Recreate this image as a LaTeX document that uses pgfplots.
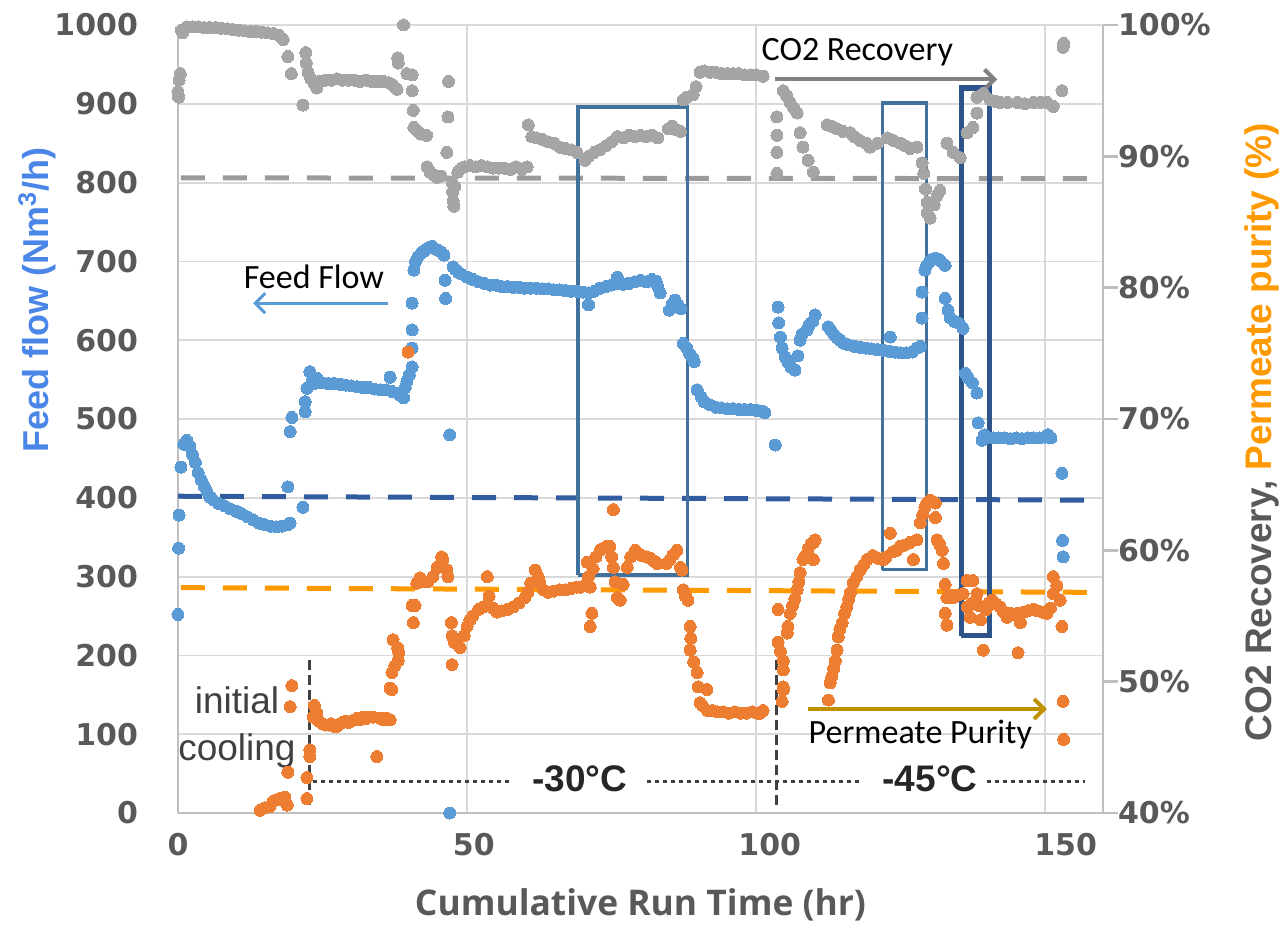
\documentclass[border=0pt]{standalone}
\usepackage{fontspec}
\usepackage{pgfplots}
\usepackage{pgfplotstable}
\pgfplotsset{compat=1.18}
\usetikzlibrary{arrows.meta}
\setmainfont{Liberation Sans}
\newfontfamily\tickfont{DejaVu Sans}
\newfontfamily\calib{Carlito}
\newfontfamily\osans{Open Sans}
\definecolor{cblue}{RGB}{91,155,213}
\definecolor{corange}{RGB}{237,125,49}
\definecolor{cgray}{RGB}{165,165,165}
\definecolor{gridgray}{RGB}{217,217,217}
\definecolor{axisgray}{RGB}{191,191,191}
\definecolor{tickgray}{RGB}{89,89,89}
\definecolor{dashgray}{RGB}{155,155,155}
\definecolor{dashblue}{RGB}{50,92,160}
\definecolor{dashorange}{RGB}{255,153,0}
\definecolor{boxblue}{RGB}{65,113,156}
\definecolor{boxdark}{RGB}{46,84,140}
\definecolor{labelblue}{RGB}{74,134,232}
\definecolor{labelorange}{RGB}{255,153,0}
\definecolor{darkline}{RGB}{64,64,64}
\definecolor{gold}{RGB}{191,144,0}
\definecolor{arrowgray}{RGB}{128,128,128}

\pgfplotstableread{
x y
0.0 252
0.1 336
0.2 378
0.5 439
1.0 468
1.5 473
2.0 466
2.5 455
3 445
3.5 432
4 423
4.5 415
5 408
5.5 401
6 398
7 393
8 390
9 386
10 383
11 380
12 376
13 372
14 368
15 366
16 364
17 363
18 364
19 366
19.4 368
19 414
21.6 388
19.4 484
19.7 502
22 509
22 522
22.3 539
22.8 560
23.2 548
23.6 545
24 552
24.5 547
25 546
26 545
27 545
28 544
29 543
30 542
31 541
32 540
33 540
34 538
35 537
36 537
36.7 553
37 535
38 533
38.5 530
39 527
39.3 540
39.6 548
40 556
40.5 566
40.5 590
40.5 613
40.5 647
40.8 689
41.1 700
41.5 706
42 710
42.5 713
43 716
43.5 718
44 719
44.5 716
45 714
45.5 712
46 708
46.2 676
46.3 653
47 480
47 0
47.6 693
48 690
48.5 686
49 684
50 680
51 677
52 674
53 672
54 670
55 670
56 668
57 668
58 667
59 667
60 666
61 666
62 666
63 665
64 665
65 664
66 664
67 663
68 662
69 662
70 661
71 660
71 645
72 662
73 666
74 668
75 670
76 672
76 680
77 671
78 672
79 674
80 676
81 674
82 677
82.7 675
83 668
83.4 660
85 638
85.5 646
86 651
86.5 645
87 640
87.4 596
88 590
88.5 583
89 578
89.3 573
89.8 537
90.5 528
91 522
92 518
93 515
94 514
95 513
96 513
97 512
98 512
99 512
100 511
101 510
101.5 508
103.3 467
103.8 642
103.9 622
104.2 604
104.5 590
105 579
105.5 572
106 566
106.7 562
107.2 580
107.6 600
108 608
108.8 613
109.2 620
109.8 624
110.2 632
112.5 617
113 612
113.5 607
114 603
114.5 600
115 597
115.5 595
116 594
117 592
118 591
119 590
120 589
121 588
122 587
123 586
123.2 604
124 585
125 584
126 584
127 585
127.8 590
128.4 592
128.7 628
128.7 661
129.2 689
129.5 695
130 700
130.5 703
131 704
131.5 703
132 700
132.7 695
132.7 653
133.2 638
133.6 628
134.3 624
135 622
135.8 615
136.2 558
136.7 552
137.4 546
138.2 533
138.4 495
139.1 473
139.5 480
140 477
141 476
142 476
143 476
144 475
145 476
146 475
147 476
148 476
149 476
150 477
150.5 480
151 476
152.9 431
153 346
153.1 325
}\feedflow

\pgfplotstableread{
x p
0.0 94.9
0.1 94.5
0.2 95.8
0.4 96.3
0.6 99.6
0.8 99.4
1.5 99.85
2.5 99.85
3.5 99.85
4.5 99.8
5.5 99.8
6.5 99.8
7.5 99.75
8.5 99.7
9.5 99.65
10.5 99.6
11.5 99.55
12.5 99.5
13.5 99.5
14.5 99.45
15.5 99.4
16.5 99.35
17.5 99.2
18.2 98.9
19 97.6
19.6 96.3
21.6 93.9
22.1 97.9
22.2 97.1
22.5 96.4
23 95.9
23.5 95.6
24 95.2
24.5 95.7
25.5 95.8
26.5 95.8
27.5 95.9
28.5 95.8
29.5 95.8
30.5 95.8
31.5 95.7
32.5 95.8
33.5 95.7
34.5 95.7
35.5 95.7
36.5 95.6
37.2 95.4
37.9 95.1
38 97.5
38.1 97.1
39 100
39.6 96.3
40.5 96.2
40.5 95.0
40.7 93.5
40.8 92.2
41.5 91.9
42 91.7
43 91.6
43.1 89.2
43.6 88.8
44.2 88.6
44.8 88.4
45.5 88.5
46.5 90.3
46.7 93.0
46.8 95.7
47.4 88.0
47.5 87.3
47.6 86.6
47.7 86.2
47.9 87.7
48.4 88.8
48.8 89.0
49.5 89.2
50.5 89.3
51.5 89.2
52.5 89.3
53.5 89.2
54.5 89.1
55.5 89.1
56.5 89.1
57.5 89.0
58.5 89.2
59.5 89.0
60.4 89.2
60.6 92.4
61.2 91.5
62 91.4
63 91.3
64 91.1
65 91.0
66 90.7
67 90.6
68 90.5
69 90.3
70.4 89.7
71 90.0
72 90.3
73 90.5
74 90.8
75 91.1
76 91.5
77 91.4
78 91.6
79 91.5
80 91.6
81 91.5
82 91.6
83 91.4
84.8 92.1
85.5 92.3
86.3 92.0
86.9 91.9
87.4 94.3
88 94.5
89.1 94.7
89.6 95.3
90.3 96.4
91 96.5
92 96.4
93 96.4
94 96.3
95 96.3
96 96.3
97 96.3
98 96.2
99 96.2
100 96.2
101.2 96.1
103.6 88.7
103.6 90.3
103.6 91.6
103.6 93.0
104.7 95.0
105.3 94.6
105.9 94.1
106.5 93.7
107.1 93.3
107.6 91.8
108.1 90.7
109 89.7
109.9 88.8
112.3 92.4
113 92.3
114 92.1
115 91.9
116.3 91.8
117 91.5
118 91.2
119 91.0
119.7 90.7
121 91.0
122.7 91.4
123.8 91.2
124.9 91.0
125.8 90.8
126.6 90.6
127.8 90.7
128.7 89.5
129 88.7
129.3 87.5
129.6 86.5
129.6 85.7
130.1 85.3
130.8 86.3
131.3 87.0
131.8 87.4
133 91.0
134.1 90.3
135.3 89.9
136.5 91.8
137.5 92.2
138.2 93.3
138.2 94.5
139.3 94.8
140.5 94.3
141.3 94.2
142.2 94.1
143.5 94.1
145.2 94.1
146.5 94.0
148 94.1
149.2 94.1
150.3 94.1
151.4 93.8
152.9 95.0
153.1 98.3
153.2 98.6
}\recovery

\pgfplotstableread{
x p
14.2 40.2
15.0 40.4
15.9 40.5
16.5 40.9
17 41.0
17.6 41.1
18.2 41.0
18.9 40.6
18.5 41.2
19 43.1
19.4 48.1
19.7 49.7
22.3 41.1
22.3 42.7
22.8 44.3
22.8 44.8
23.4 47.3
23.6 48.2
24 47.6
24.3 47.0
25 46.8
25.5 46.7
26 46.7
26.5 46.8
27 46.6
27.5 46.6
28 46.8
28.5 46.9
29 47.0
29.5 46.9
30 47.0
30.5 47.1
31 47.2
31.5 47.1
32 47.3
32.5 47.2
33 47.3
33.7 47.3
34.4 44.3
35 47.2
35.5 47.1
36 47.2
36.7 47.1
36.7 49.5
37 49.4
37 50.7
37.2 53.2
37.5 51.2
38.1 51.6
38 52.6
38.2 52.2
39.8 75.1
40.5 55.8
40.7 54.5
41 55.8
41.3 57.5
41.9 57.9
42.5 57.6
43.2 57.6
44.1 58.0
44.8 58.7
45.6 59.5
45.8 59.3
46.5 58.5
46.7 58.0
47.3 54.5
47.4 53.5
47.4 51.3
47.8 53.0
48.3 53.2
48.8 52.6
49.5 53.5
50 54.2
50.5 54.7
51 55.0
52 55.5
52.8 55.7
53.5 58.0
53.8 56.5
54.5 55.6
55.2 55.3
56 55.4
57 55.5
58 55.7
59 56.0
60 56.4
60.5 56.8
61 57.5
61.8 58.5
62.3 58.0
62.6 57.5
63.2 57.0
64 56.8
65 56.9
66 57.0
67 57.0
68 57.1
69 57.2
69.6 57.2
70.2 57.3
70.8 59.1
71 58.0
71.3 57.2
71.6 55.2
71.3 54.2
71.8 58.6
72.3 59.5
73 60.0
73.7 60.2
74.2 60.3
74.7 60.3
75 59.5
75.3 58.7
75.3 63.1
75.6 57.6
76 56.4
76.5 56.2
77 57.4
77.7 58.7
78.3 59.5
79.1 60.0
79.7 59.7
80.3 59.6
81.1 59.5
81.7 59.4
82.3 59.2
82.9 59.0
84.5 59.0
85.1 59.3
85.7 59.7
86.3 60.0
86.9 58.7
87.2 58.5
87.4 57.0
87.8 56.5
88.2 56.2
88.6 54.2
88.7 53.3
88.6 52.4
89.2 51.5
89.8 50.7
90.0 49.6
90.3 48.4
90.7 48.2
91.5 49.4
91.6 47.8
92.5 47.8
93.3 47.7
94.3 47.7
95.3 47.6
96.3 47.7
97.3 47.6
98.3 47.6
99.3 47.7
100.2 47.6
100.7 47.6
101.2 47.8
103.8 55.5
103.8 53.0
104.2 52.3
104.7 51.6
104.7 50.9
104.7 49.6
104.5 48.5
104.7 49.4
105.4 53.7
105.5 54.2
105.9 55.2
106.3 55.8
106.7 56.3
107.1 57.0
107.4 57.6
107.6 58.3
108.1 59.3
108.5 59.6
109 60.1
109.5 60.5
109.9 60.6
109.9 59.3
110.2 60.8
112.5 48.6
112.8 49.9
113.1 50.4
113.4 51.0
113.7 51.6
114 52.4
114.2 53.4
114.5 54.0
114.9 54.5
115.3 55.2
115.7 55.7
116 56.3
116.3 56.8
116.8 57.5
117.4 58.0
118 58.5
118.6 58.9
119.2 59.3
120.2 59.6
121 59.4
122 59.3
122.5 59.5
123.2 61.3
123.7 59.9
124.3 60.0
124.9 60.3
125.7 60.4
126.6 60.6
127.2 59.3
127.8 60.8
128.4 62.1
128.8 62.7
129.2 63.3
129.6 63.6
130.1 63.8
130.6 63.7
131 63.6
131 62.5
131.3 60.8
131.8 60.4
132.2 60.0
132.4 59.0
132.7 57.4
133 56.4
132.7 55.2
133 54.3
133.5 56.6
134.1 56.4
135 56.6
135.8 56.7
136.5 55.7
136.5 57.7
137 54.9
137.4 56.0
137.5 57.7
138.2 56.7
138.5 55.8
138.8 54.7
139.3 52.4
139.8 55.5
140.3 56.0
140.8 56.2
141.5 55.9
142.2 55.7
142.8 55.3
143.4 54.9
144 55.2
144.6 55.1
145.2 55.2
145.7 54.5
145.3 52.2
146.3 55.3
147 55.4
148 55.5
148.7 55.4
149.5 55.3
150.3 55.2
150.9 55.6
151.4 56.7
151.4 58.0
152 57.3
152.6 56.2
152.9 54.2
153.1 48.5
153.2 45.6
}\purity

\begin{document}
\begin{tikzpicture}
\useasboundingbox (-89pt,-68pt) rectangle (553pt,406.5pt);
\begin{axis}[
  scale only axis, width=462.5pt, height=394pt,
  xmin=0, xmax=160, ymin=0, ymax=1000,
  clip=false,
  axis x line*=bottom, axis y line*=left,
  axis line style={-, draw=axisgray, line width=1.2pt},
  xtick={0,50,100,150}, xticklabels={0,50,100,150},
  ytick={0,100,200,300,400,500,600,700,800,900,1000},
  yticklabels={0,100,200,300,400,500,600,700,800,900,1000},
  major tick length=0pt,
  grid=major, major grid style={draw=gridgray, line width=0.9pt},
  tick label style={font=\tickfont\bfseries\fontsize{15}{18}\selectfont, text=tickgray},
  xticklabel style={yshift=-6.5pt, xshift={\ticknum*3.4pt}},
  yticklabel style={xshift=-16.5pt},
  mark size=3pt,
]
\addplot[only marks, color=cblue, mark=*, mark options={draw=cblue, fill=cblue, line width=0pt}] table[x=x,y=y] {\feedflow};
\addplot[only marks, color=cgray, mark=*, mark options={draw=cgray, fill=cgray, line width=0pt}] table[x=x,y expr={(\thisrow{p}-40)*1000/60}] {\recovery};
\addplot[only marks, color=corange, mark=*, mark options={draw=corange, fill=corange, line width=0pt}] table[x=x,y expr={(\thisrow{p}-40)*1000/60}] {\purity};

% reference lines
\addplot[no marks, draw=dashgray, line width=2.5pt, dash pattern=on 12pt off 9pt] coordinates {(0.5,806) (158.6,805)};
\addplot[no marks, draw=dashblue, line width=2.5pt, dash pattern=on 12pt off 9pt] coordinates {(0,402) (158.6,397)};
\addplot[no marks, draw=dashorange, line width=2.5pt, dash pattern=on 12pt off 9pt] coordinates {(0.5,286) (158.6,280)};

% boxes
\addplot[no marks, draw=boxblue, line width=1.6pt] coordinates {(69.2,302) (88.1,302) (88.1,896) (69.2,896) (69.2,302)};
\addplot[no marks, draw=boxblue, line width=1.6pt] coordinates {(121.8,309) (129.4,309) (129.4,901) (121.8,901) (121.8,309)};
\addplot[no marks, draw=boxdark, line width=2.6pt] coordinates {(135.5,225) (140.3,225) (140.3,920) (135.5,920) (135.5,225)};

% temperature markers
\addplot[no marks, draw=darkline, line width=1.5pt, dash pattern=on 5pt off 2.5pt] coordinates {(22.7,10) (22.7,198)};
\addplot[no marks, draw=darkline, line width=1.5pt, dash pattern=on 5pt off 2.5pt] coordinates {(103.5,10) (103.5,198)};
\addplot[no marks, draw=darkline, line width=1.5pt, dash pattern=on 2pt off 2pt] coordinates {(23.4,40) (57.7,40)};
\addplot[no marks, draw=darkline, line width=1.5pt, dash pattern=on 2pt off 2pt] coordinates {(81.1,40) (118.3,40)};
\addplot[no marks, draw=darkline, line width=1.5pt, dash pattern=on 2pt off 2pt] coordinates {(140,40) (156.9,40)};

\node[font=\bfseries\fontsize{18.5}{22}\selectfont, text={rgb,255:red,38;green,38;blue,38}] at (axis cs:69.5,44) {-30\textdegree C};
\node[font=\bfseries\fontsize{18.5}{22}\selectfont, text={rgb,255:red,38;green,38;blue,38}] at (axis cs:130.1,44) {-45\textdegree C};
\node[font=\fontsize{18.5}{23.5}\selectfont, text=darkline, align=center] at (axis cs:10.2,109) {initial\\cooling};

% annotations
\node[font=\calib\fontsize{17}{20}\selectfont] at (axis cs:23.5,680) {Feed Flow};
\draw[draw=cblue, line width=1.5pt, -{Straight Barb[length=5pt,width=10pt]}] (axis cs:36.3,647) -- (axis cs:13,647);
\node[font=\calib\fontsize{17}{20}\selectfont] at (axis cs:117.5,966) {CO2 Recovery};
\draw[draw=arrowgray, line width=2pt, -{Straight Barb[length=5pt,width=10pt]}] (axis cs:103.3,931) -- (axis cs:141.7,931);
\node[font=\calib\fontsize{17}{20}\selectfont] at (axis cs:128.4,99) {Permeate Purity};
\draw[draw=gold, line width=2pt, -{Straight Barb[length=5pt,width=10pt]}] (axis cs:109,132) -- (axis cs:150.3,132);

% axis labels
\node[rotate=90, font=\bfseries\fontsize{18}{21}\selectfont, text=labelblue] at (axis description cs:-0.1524,0.651) {Feed flow (Nm\textsuperscript{3}/h)};
\node[font=\osans\bfseries\fontsize{17.7}{20}\selectfont, text=tickgray] at (axis description cs:0.5,-0.1168) {Cumulative Run Time (hr)};
\end{axis}

\begin{axis}[
  scale only axis, width=462.5pt, height=394pt,
  xmin=0, xmax=160, ymin=40, ymax=100,
  clip=false,
  axis x line=none, axis y line*=right,
  axis line style={-, draw=axisgray, line width=1.2pt},
  ytick={40,50,60,70,80,90,100},
  yticklabels={40\%,50\%,60\%,70\%,80\%,90\%,100\%},
  tick align=outside, major tick length=7.5pt,
  tick style={draw=axisgray, line width=1.2pt},
  tick label style={font=\tickfont\bfseries\fontsize{15}{18}\selectfont, text=tickgray},
  yticklabel style={xshift=-3.5pt},
]
\node[rotate=90, font=\bfseries\fontsize{18.5}{22}\selectfont] at (axis description cs:1.172,0.4835) {\textcolor{tickgray}{CO2 Recovery,} \textcolor{labelorange}{Permeate purity (\%)}};
\end{axis}
\end{tikzpicture}
\end{document}
